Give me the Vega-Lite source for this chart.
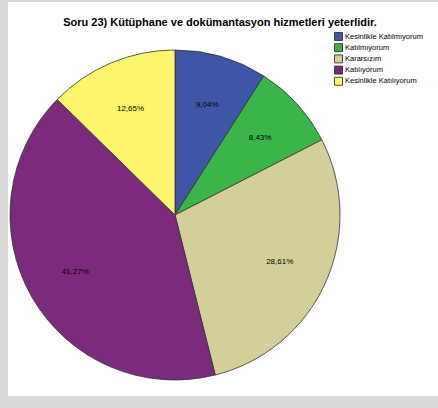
{
  "$schema": "https://vega.github.io/schema/vega-lite/v6.json",
  "width": 438,
  "height": 408,
  "autosize": {"type": "fit", "contains": "padding"},
  "padding": {"left": 8, "top": 2, "right": 0, "bottom": 12},
  "background": "#dadada",
  "title": {
    "text": "Soru 23) Kütüphane ve dokümantasyon hizmetleri yeterlidir.",
    "font": "Liberation Sans",
    "fontSize": 11,
    "fontWeight": "bold",
    "color": "#000000",
    "anchor": "middle",
    "baseline": "bottom",
    "offset": -26,
    "dy": 11,
    "dx": -3
  },
  "data": {
    "values": [
      {"cevap": "Kesinlikle Katılmıyorum", "yuzde": 9.04, "etiket": "9,04%", "sira": 1},
      {"cevap": "Katılmıyorum", "yuzde": 8.43, "etiket": "8,43%", "sira": 2},
      {"cevap": "Kararsızım", "yuzde": 28.61, "etiket": "28,61%", "sira": 3},
      {"cevap": "Katılıyorum", "yuzde": 41.27, "etiket": "41,27%", "sira": 4},
      {"cevap": "Kesinlikle Katılıyorum", "yuzde": 12.65, "etiket": "12,65%", "sira": 5}
    ]
  },
  "encoding": {
    "theta": {"field": "yuzde", "type": "quantitative", "stack": true},
    "order": {"field": "sira", "type": "quantitative"},
    "x": {"value": 167},
    "y": {"value": 213}
  },
  "layer": [
    {
      "mark": {"type": "arc", "outerRadius": 165, "stroke": "#333333", "strokeWidth": 0.8},
      "encoding": {
        "color": {
          "field": "cevap",
          "type": "nominal",
          "scale": {
            "domain": ["Kesinlikle Katılmıyorum", "Katılmıyorum", "Kararsızım", "Katılıyorum", "Kesinlikle Katılıyorum"],
            "range": ["#3F56A6", "#3AB54A", "#D4CF99", "#7C2B7C", "#FBF66C"]
          },
          "legend": {
            "orient": "none",
            "legendX": 326,
            "legendY": 30,
            "title": null,
            "symbolType": "square",
            "symbolSize": 64,
            "symbolStrokeColor": "#222222",
            "symbolStrokeWidth": 0.8,
            "labelFont": "Liberation Sans",
            "labelFontSize": 7.5,
            "labelColor": "#000000",
            "rowPadding": -1.8,
            "labelOffset": 2,
            "padding": 0
          }
        }
      }
    },
    {
      "mark": {"type": "text", "radius": 115, "font": "Liberation Sans", "fontSize": 8, "color": "#000000", "baseline": "middle", "align": "center"},
      "encoding": {"text": {"field": "etiket"}}
    }
  ],
  "config": {"view": {"fill": "white", "stroke": null}}
}
